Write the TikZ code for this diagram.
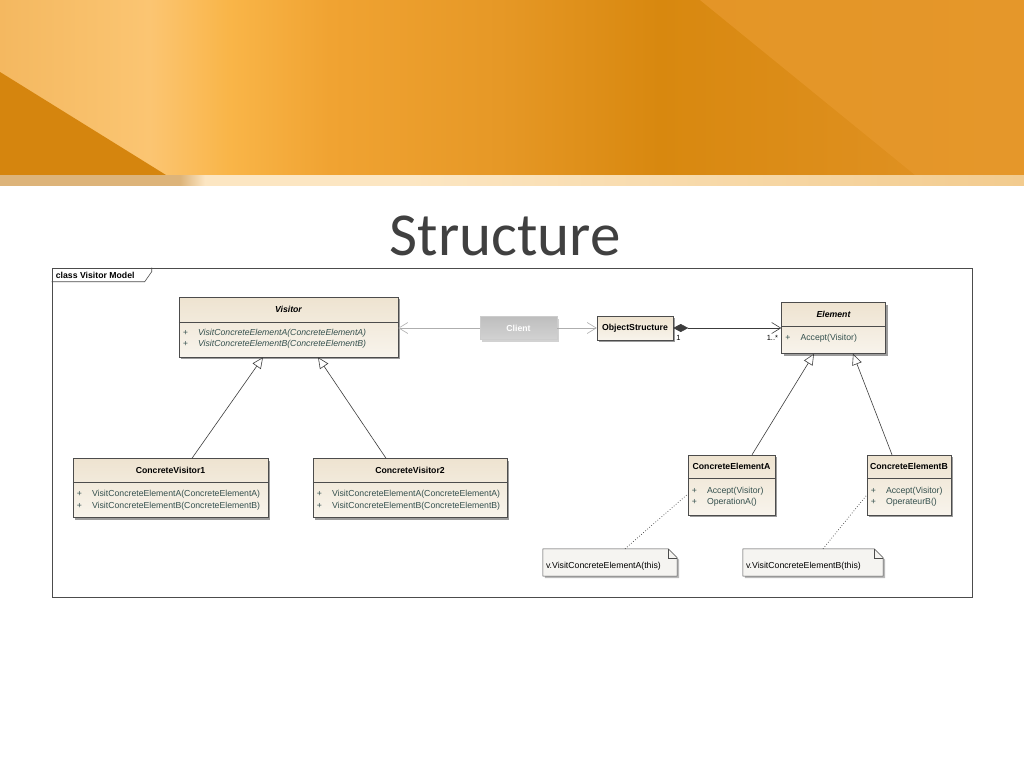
\documentclass[tikz,border=0pt]{standalone}
\usepackage{fontspec}
\setmainfont{Liberation Sans}
\newfontfamily\titlefont{Carlito}
\usepackage{xcolor}
\usetikzlibrary{arrows.meta, shadows, calc}

\definecolor{clstop}{HTML}{EEE3D0}
\definecolor{clsbot}{HTML}{F8F4EC}
\definecolor{optext}{HTML}{34504E}
\definecolor{linedark}{HTML}{3C3C3C}
\definecolor{linegray}{HTML}{AEAEAE}
\definecolor{clienttop}{HTML}{BEBEBE}
\definecolor{clientbot}{HTML}{D2D2D2}
\definecolor{notefill}{HTML}{F5F4F1}
\definecolor{titlegray}{HTML}{404040}
\definecolor{bnA}{HTML}{F4B860}
\definecolor{bnB}{HTML}{FBC572}
\definecolor{bnC}{HTML}{F9B548}
\definecolor{bnD}{HTML}{F0A332}
\definecolor{bnE}{HTML}{E69826}
\definecolor{bnF}{HTML}{D8880F}
\definecolor{bnG}{HTML}{E29428}
\definecolor{bnright}{HTML}{E6982B}
\definecolor{bndark}{HTML}{D5850E}
\definecolor{stA}{HTML}{DDB47A}
\definecolor{stB}{HTML}{FCE6C2}
\definecolor{stC}{HTML}{F2CB8E}

\pgfdeclarehorizontalshading{bannershade}{100bp}{color(0bp)=(bnA); color(25bp)=(bnA); color(32.3bp)=(bnB); color(36.2bp)=(bnC); color(41.1bp)=(bnD); color(49.4bp)=(bnE); color(57.2bp)=(bnF); color(75bp)=(bnG); color(100bp)=(bnG)}
\pgfdeclarehorizontalshading{stripshade}{100bp}{color(0bp)=(stA); color(25bp)=(stA); color(33.8bp)=(stA); color(35bp)=(stB); color(45bp)=(stB); color(75bp)=(stC); color(100bp)=(stC)}

\begin{document}
\begin{tikzpicture}[x=1pt, y=-1pt,
    cls/.style={rectangle, draw=black!70, line width=0.5pt, top color=clstop, bottom color=clsbot, inner sep=0pt,
        drop shadow={shadow xshift=2pt, shadow yshift=-2pt, fill=black!55, opacity=0.7}},
    clientbox/.style={rectangle, draw=black!20, line width=0.5pt, top color=clienttop, bottom color=clientbot, inner sep=0pt,
        text=white, font=\fontsize{8.7}{10}\selectfont\bfseries,
        drop shadow={shadow xshift=2pt, shadow yshift=-2pt, fill=black!25, opacity=0.7}},
    clsname/.style={font=\fontsize{8.7}{10}\selectfont\bfseries, inner sep=0pt},
    ops/.style={font=\fontsize{8.7}{10}\selectfont, text=optext, inner sep=0pt, anchor=base west},
    divider/.style={draw=black!70, line width=0.5pt},
    frame/.style={rectangle, draw=black!70, line width=0.6pt, inner sep=0pt},
    notebox/.style={fill=notefill, draw=black!70, line width=0.5pt,
        drop shadow={shadow xshift=2pt, shadow yshift=-2pt, fill=black!45, opacity=0.6}},
    notetext/.style={font=\fontsize{8.7}{10}\selectfont, inner sep=0pt, anchor=base west},
    mult/.style={font=\fontsize{7.5}{9}\selectfont, inner sep=0pt},
    assoc/.style={draw=linegray, line width=0.6pt, -{Straight Barb[length=9pt, width=11pt]}},
    comp/.style={draw=linedark, line width=0.6pt, {Diamond[length=15pt, width=8pt]}-{Straight Barb[length=9pt, width=11pt]}},
    gen/.style={draw=linedark, line width=0.6pt, -{Triangle[open, length=11pt, width=10pt, fill=white]}},
    notelink/.style={draw=linedark, line width=0.7pt, dotted}
]
\useasboundingbox (0,0) rectangle (1024,768);
\fill[white] (0,0) rectangle (1024,768);

% slide banner
\shade[shading=bannershade] (0,0) rectangle (1024,175);
\fill[bnright, opacity=0.85] (700,0) -- (1024,0) -- (1024,175) -- (915,175) -- cycle;
\fill[bndark] (0,72) -- (166,175) -- (0,175) -- cycle;
\shade[shading=stripshade] (0,175) rectangle (1024,185);

\node[font=\titlefont\fontsize{61}{70}\selectfont, text=titlegray, anchor=base, inner sep=0pt] (title) at (505,255) {Structure};

% frame
\node[frame, minimum width=920, minimum height=329] (model) at (512,432.5) {};
\draw[draw=black!70, line width=0.6pt] ($(model.north west)+(100,0)$) -- ++(0,4) -- ++(-7,10) -- ($(model.north west)+(0,14)$);
\node[font=\fontsize{8.7}{10}\selectfont\bfseries, inner sep=0pt, anchor=west] (model-label) at ($(model.north west)+(4,7.5)$) {class Visitor Model};

% classes
\node[cls, minimum width=219, minimum height=60] (visitor) at (288.5,327) {};
\draw[divider] ($(visitor.north west)+(0,25)$) -- ($(visitor.north east)+(0,25)$);
\node[clsname, font=\fontsize{8.7}{10}\selectfont\bfseries\itshape] (visitor-name) at ($(visitor.north)+(0,12.5)$) {Visitor};
\node[ops, font=\fontsize{8.7}{10}\selectfont\itshape] (visitor-op1) at ($(visitor.north west)+(4,39)$) {+\hspace{10pt}VisitConcreteElementA(ConcreteElementA)};
\node[ops, font=\fontsize{8.7}{10}\selectfont\itshape] (visitor-op2) at ($(visitor.north west)+(4,50)$) {+\hspace{10pt}VisitConcreteElementB(ConcreteElementB)};

\node[clientbox, minimum width=77, minimum height=23] (client) at (518.5,328) {Client};

\node[cls, minimum width=76, minimum height=24] (objstruct) at (635,328) {};
\node[clsname] (objstruct-name) at (objstruct) {ObjectStructure};

\node[cls, minimum width=104, minimum height=51] (element) at (833.5,328) {};
\draw[divider] ($(element.north west)+(0,24)$) -- ($(element.north east)+(0,24)$);
\node[clsname, font=\fontsize{8.7}{10}\selectfont\bfseries\itshape] (element-name) at ($(element.north)+(0,12)$) {Element};
\node[ops] (element-op1) at ($(element.north west)+(4,38)$) {+\hspace{10pt}Accept(Visitor)};

\node[cls, minimum width=195, minimum height=59] (cv1) at (170.5,488) {};
\draw[divider] ($(cv1.north west)+(0,24)$) -- ($(cv1.north east)+(0,24)$);
\node[clsname] (cv1-name) at ($(cv1.north)+(0,12)$) {ConcreteVisitor1};
\node[ops] (cv1-op1) at ($(cv1.north west)+(4,38.5)$) {+\hspace{10pt}VisitConcreteElementA(ConcreteElementA)};
\node[ops] (cv1-op2) at ($(cv1.north west)+(4,50)$) {+\hspace{10pt}VisitConcreteElementB(ConcreteElementB)};

\node[cls, minimum width=194, minimum height=59] (cv2) at (410,488) {};
\draw[divider] ($(cv2.north west)+(0,24)$) -- ($(cv2.north east)+(0,24)$);
\node[clsname] (cv2-name) at ($(cv2.north)+(0,12)$) {ConcreteVisitor2};
\node[ops] (cv2-op1) at ($(cv2.north west)+(4,38.5)$) {+\hspace{10pt}VisitConcreteElementA(ConcreteElementA)};
\node[ops] (cv2-op2) at ($(cv2.north west)+(4,50)$) {+\hspace{10pt}VisitConcreteElementB(ConcreteElementB)};

\node[cls, minimum width=87, minimum height=60] (cea) at (731.5,485) {};
\draw[divider] ($(cea.north west)+(0,23)$) -- ($(cea.north east)+(0,23)$);
\node[clsname] (cea-name) at ($(cea.north)+(0,11.5)$) {ConcreteElementA};
\node[ops] (cea-op1) at ($(cea.north west)+(4,39)$) {+\hspace{10pt}Accept(Visitor)};
\node[ops] (cea-op2) at ($(cea.north west)+(4,50)$) {+\hspace{10pt}OperationA()};

\node[cls, minimum width=84, minimum height=60] (ceb) at (909,485) {};
\draw[divider] ($(ceb.north west)+(0,23)$) -- ($(ceb.north east)+(0,23)$);
\node[clsname] (ceb-name) at ($(ceb.north)+(0,11.5)$) {ConcreteElementB};
\node[ops] (ceb-op1) at ($(ceb.north west)+(4,39)$) {+\hspace{10pt}Accept(Visitor)};
\node[ops] (ceb-op2) at ($(ceb.north west)+(4,50)$) {+\hspace{10pt}OperateurB()};

% notes
\node[minimum width=134, minimum height=27, inner sep=0pt] (noteA) at (610,562.5) {};
\filldraw[notebox] (noteA.south west) -- (noteA.north west) -- ([xshift=-9pt]noteA.north east) -- ([yshift=-9pt]noteA.north east) -- (noteA.south east) -- cycle;
\draw[draw=black!70, line width=0.5pt] ([xshift=-9pt]noteA.north east) -- ([xshift=-9pt, yshift=-9pt]noteA.north east) -- ([yshift=-9pt]noteA.north east);
\node[notetext] (noteA-text) at ($(noteA.west)+(3,6)$) {v.VisitConcreteElementA(this)};

\node[minimum width=140, minimum height=27, inner sep=0pt] (noteB) at (813,562.5) {};
\filldraw[notebox] (noteB.south west) -- (noteB.north west) -- ([xshift=-9pt]noteB.north east) -- ([yshift=-9pt]noteB.north east) -- (noteB.south east) -- cycle;
\draw[draw=black!70, line width=0.5pt] ([xshift=-9pt]noteB.north east) -- ([xshift=-9pt, yshift=-9pt]noteB.north east) -- ([yshift=-9pt]noteB.north east);
\node[notetext] (noteB-text) at ($(noteB.west)+(3,6)$) {v.VisitConcreteElementB(this)};

% connectors
\draw[assoc] (client.west) -- (client.west -| visitor.east);
\draw[assoc] (client.east) -- (client.east -| objstruct.west);
\draw[comp] (objstruct.east) -- (objstruct.east -| element.west);
\node[mult, anchor=west] (mult-one) at ($(objstruct.east)+(3,10)$) {1};
\node[mult, anchor=east] (mult-many) at ($(element.west)+(-3,10)$) {1..*};

\draw[gen] ([xshift=21.5pt]cv1.north) -- ([xshift=-25.5pt]visitor.south);
\draw[gen] ([xshift=-24pt]cv2.north) -- ([xshift=29.5pt]visitor.south);
\draw[gen] ([xshift=20.5pt]cea.north) -- ([xshift=-19.5pt]element.south);
\draw[gen] ([xshift=-17pt]ceb.north) -- ([xshift=19.5pt]element.south);

\draw[notelink] ([xshift=15pt]noteA.north) -- ([yshift=-9pt]cea.west);
\draw[notelink] ([xshift=10pt]noteB.north) -- ([yshift=-10pt]ceb.west);
\end{tikzpicture}
\end{document}
